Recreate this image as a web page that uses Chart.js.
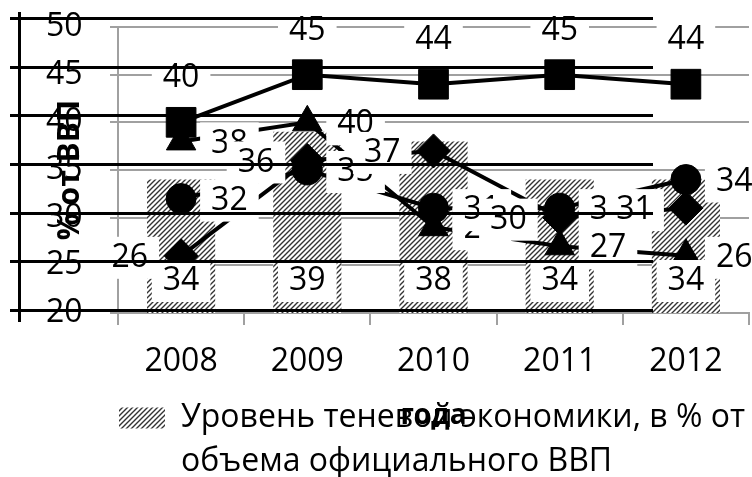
<!DOCTYPE html>
<html>
<head>
<meta charset="utf-8">
<script src="https://cdn.jsdelivr.net/npm/chart.js@4.4.1/dist/chart.umd.min.js"></script>
<style>
body { margin: 0; background: #fff; }
#wrap { position: relative; width: 752px; height: 477px; }
#wrap canvas { position: absolute; left: 0; top: 0; }
#ghostChart { pointer-events: none; }
</style>
</head>
<body>
<div id="wrap">
    <canvas id="mainChart" width="752" height="477"></canvas>
    <canvas id="ghostChart" width="752" height="477"></canvas>
</div>
<script>
const years = ['2008', '2009', '2010', '2011', '2012'];
const shadowEconomy = [34, 39, 38, 34, 34];
const squareSeries = [40, 45, 44, 45, 44];
const triangleSeries = [38, 40, 29, 27, 26];
const circleSeries = [32, 35, 31, 31, 34];
const diamondSeries = [26, 36, 37, 30, 31];
const yTicks = [20, 25, 30, 35, 40, 45, 50];
const legendLines = ['Уровень теневой экономики, в % от', 'объема официального ВВП'];

const FONT = "'Open Sans', sans-serif";
const GRAY = '#a0a0a0';

// diagonal hatch for the bars
function makeHatch() {
    const c = document.createElement('canvas');
    c.width = 5;
    c.height = 5;
    const g = c.getContext('2d');
    g.fillStyle = '#fff';
    g.fillRect(0, 0, 5, 5);
    g.strokeStyle = '#333';
    g.lineWidth = 1.4;
    g.beginPath();
    g.moveTo(-1, 6); g.lineTo(6, -1);
    g.moveTo(-3.5, 3.5); g.lineTo(3.5, -3.5);
    g.moveTo(1.5, 8.5); g.lineTo(8.5, 1.5);
    g.stroke();
    return g.createPattern(c, 'repeat');
}
const hatch = makeHatch();

// value labels with white boxes, like the spreadsheet ones
const dataLabels = {
    id: 'dataLabels',
    afterDatasetsDraw(chart) {
        const ctx = chart.ctx;
        const yScale = chart.scales.y;
        ctx.save();
        ctx.font = '32px ' + FONT;
        ctx.textBaseline = 'middle';
        ctx.textAlign = 'center';
        chart.data.datasets.forEach((ds, i) => {
            const meta = chart.getDatasetMeta(i);
            meta.data.forEach((el, j) => {
                const txt = String(ds.data[j]);
                const w = ctx.measureText(txt).width;
                let cx, cy;
                if (ds.labelPos === 'base') { cx = el.x; cy = yScale.getPixelForValue(yScale.min) - 32; }
                else if (ds.labelPos === 'top') { cx = el.x; cy = el.y - 44; }
                else if (ds.labelPos === 'right') { cx = el.x + 30 + w / 2; cy = el.y + 2; }
                else { cx = el.x - 33 - w / 2; cy = el.y + 2; }
                ctx.fillStyle = '#fff';
                ctx.fillRect(cx - w / 2 - 11, cy - 21, w + 22, 42);
                ctx.fillStyle = '#000';
                ctx.fillText(txt, cx, cy);
            });
        });
        ctx.restore();
    }
};

// the legend clips to its own box; let the second text line show
const legendRoom = {
    id: 'legendRoom',
    beforeDraw(chart) {
        if (chart.legend) {
            chart.legend.bottom = chart.height;
            chart.legend.height = chart.legend.bottom - chart.legend.top;
        }
    }
};

function lineSet(data, style, radius, labelPos) {
    return {
        type: 'line',
        data: data,
        borderColor: '#000',
        borderWidth: 4,
        backgroundColor: '#000',
        pointStyle: style,
        pointRadius: radius,
        pointBorderWidth: 1,
        pointBorderColor: '#000',
        tension: 0,
        order: 0,
        labelPos: labelPos
    };
}

const mainCtx = document.getElementById('mainChart').getContext('2d');

new Chart(mainCtx, {
    type: 'bar',
    data: {
        labels: years,
        datasets: [
            {
                label: legendLines.join(' '),
                data: shadowEconomy,
                backgroundColor: hatch,
                categoryPercentage: 1,
                barPercentage: 0.54,
                order: 10,
                labelPos: 'base'
            },
            lineSet(squareSeries, 'rect', 21, 'top'),
            lineSet(triangleSeries, 'triangle', 17, 'right'),
            lineSet(circleSeries, 'circle', 15, 'right'),
            lineSet(diamondSeries, 'rectRot', 17, 'left')
        ]
    },
    options: {
        responsive: false,
        animation: false,
        layout: { autoPadding: false, padding: { left: 46, top: 27, right: 3, bottom: 33 } },
        plugins: {
            tooltip: { enabled: false },
            legend: {
                position: 'bottom',
                align: 'start',
                fullSize: false,
                labels: {
                    boxWidth: 46,
                    boxHeight: 21,
                    padding: 1,
                    color: '#000',
                    font: { family: FONT, size: 32, lineHeight: 1.38 },
                    generateLabels: () => [{
                        text: legendLines,
                        fillStyle: hatch,
                        strokeStyle: 'rgba(0,0,0,0)',
                        lineWidth: 0,
                        hidden: false,
                        datasetIndex: 0
                    }]
                }
            }
        },
        scales: {
            x: {
                offset: true,
                afterFit: s => { s.height = 88; },
                grid: { offset: true, drawOnChartArea: false, tickLength: 12, color: GRAY, lineWidth: 2 },
                border: { color: GRAY, width: 2 },
                ticks: { color: '#000', padding: 18, font: { family: FONT, size: 32 } },
                title: {
                    display: true,
                    text: 'года',
                    color: '#000',
                    font: { family: FONT, size: 28, weight: 'bold' },
                    padding: { top: 0, bottom: -32 }
                }
            },
            y: {
                min: 20,
                max: 50,
                afterBuildTicks: s => { s.ticks = yTicks.map(v => ({ value: v })); },
                afterFit: s => { s.width = 72; },
                grid: { color: GRAY, lineWidth: 2, tickLength: 8 },
                border: { color: GRAY, width: 2 },
                ticks: { color: '#000', padding: 0, crossAlign: 'far', font: { family: FONT, size: 32 } },
                title: {
                    display: true,
                    text: '% от ВВП',
                    color: '#000',
                    font: { family: FONT, size: 30, weight: 'bold' },
                    padding: { top: 6, bottom: 0 }
                }
            }
        }
    },
    plugins: [dataLabels, legendRoom]
});

// the second (black) axis that sits over the plot
const ghostCtx = document.getElementById('ghostChart').getContext('2d');

new Chart(ghostCtx, {
    type: 'line',
    data: { labels: years, datasets: [] },
    options: {
        responsive: false,
        animation: false,
        layout: { padding: { left: 10, top: 13, right: 99, bottom: 157 } },
        plugins: { legend: { display: false }, tooltip: { enabled: false } },
        scales: {
            x: { display: false },
            y: {
                min: 19,
                max: 50.6,
                afterBuildTicks: s => { s.ticks = yTicks.map(v => ({ value: v })); },
                afterFit: s => { s.width = 9; },
                ticks: { display: false },
                grid: { color: '#000', lineWidth: 3, tickLength: 9 },
                border: { color: '#000', width: 3 }
            }
        }
    }
});
</script>
</body>
</html>
